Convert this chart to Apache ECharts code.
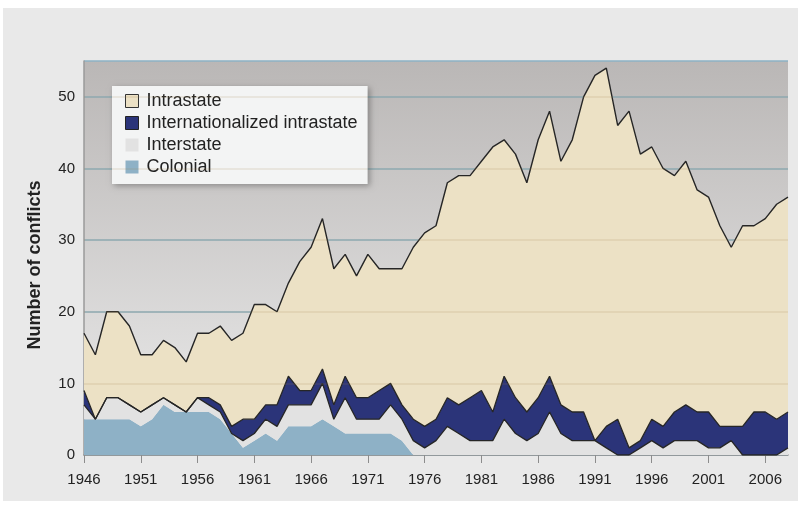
<!DOCTYPE html>
<html>
<head>
<meta charset="utf-8">
<script src="https://cdn.jsdelivr.net/npm/echarts@6/dist/echarts.min.js"></script>
<style>
html,body{margin:0;padding:0;background:#ffffff;}
#chart{width:811px;height:506px;}
</style>
</head>
<body>
<div id="chart"></div>
<script>
const years = [];
for (let y = 1946; y <= 2008; y++) years.push(String(y));

const colonial = [5,5,5,5,5,4,5,7,6,6,6,6,5,3,1,2,3,2,4,4,4,5,4,3,3,3,3,3,2,0,
  0,0,0,0,0,0,0,0,0,0,0,0,0,0,0,0,0,0,0,0,0,0,0,0,0,0,0,0,0,0,0,0,0];
const interstate = [2,0,3,3,2,2,2,1,1,0,2,1,1,0,1,1,2,2,3,3,3,5,1,5,2,2,2,4,3,2,
  1,2,4,3,2,2,2,5,3,2,3,6,3,2,2,2,1,0,0,1,2,1,2,2,2,1,1,2,0,0,0,0,1];
const internationalized = [2,0,0,0,0,0,0,0,0,0,0,1,1,1,3,2,2,3,4,2,2,2,2,3,3,3,4,3,2,3,
  3,3,4,4,6,7,4,6,5,4,5,5,4,4,4,0,3,5,1,1,3,3,4,5,4,5,3,2,4,6,6,5,5];
const intrastate = [8,9,12,12,11,8,7,8,8,7,9,9,11,12,12,16,14,13,13,18,20,21,19,17,17,20,17,16,19,24,
  27,27,30,32,31,32,37,33,34,32,36,37,34,38,44,51,50,41,47,40,38,36,33,34,31,30,28,25,28,26,27,30,30];
const yTicks = [0,10,20,30,40,50];

const FONT = '"Liberation Sans", Arial, Helvetica, sans-serif';
const LINE = '#262626';
const C_INTRA = '#ece1c5';
const C_INTL = '#2b3479';
const C_INTER = '#e2e2e2';
const C_COL = '#8eb1c6';

const chart = echarts.init(document.getElementById('chart'), null, {renderer:'canvas'});
chart.setOption({
  animation: false,
  backgroundColor: '#ffffff',
  graphic: [{
    type: 'rect', z: -10, silent: true,
    shape: {x: 3, y: 8, width: 795, height: 493},
    style: {fill: '#e9e9e9'}
  }],
  grid: {
    left: 84, right: 23, top: 61, bottom: 51,
    show: true, borderWidth: 0,
    backgroundColor: {
      type: 'linear', x: 0, y: 0, x2: 0, y2: 1,
      colorStops: [{offset: 0, color: '#bab7b6'}, {offset: 1, color: '#ececec'}]
    }
  },
  legend: {
    left: 112, top: 86, orient: 'vertical',
    icon: 'rect', itemWidth: 13, itemHeight: 13, itemGap: 4,
    backgroundColor: '#f3f4f4',
    padding: [6, 10, 8, 13],
    shadowBlur: 6, shadowColor: 'rgba(0,0,0,0.3)', shadowOffsetX: 2, shadowOffsetY: 2,
    textStyle: {fontFamily: FONT, fontSize: 18, color: '#222', lineHeight: 18, padding: [0,0,0,3]},
    data: [
      {name: 'Intrastate', itemStyle: {color: C_INTRA, borderColor: '#333', borderWidth: 1}},
      {name: 'Internationalized intrastate', itemStyle: {color: C_INTL, borderColor: '#222', borderWidth: 1}},
      {name: 'Interstate', itemStyle: {color: C_INTER, borderWidth: 0}},
      {name: 'Colonial', itemStyle: {color: C_COL, borderWidth: 0}}
    ]
  },
  xAxis: {
    type: 'category', data: years, boundaryGap: false,
    axisLine: {lineStyle: {color: '#8c8c8c', width: 1.5}},
    axisTick: {show: true, interval: 4, length: 8, lineStyle: {color: '#8c8c8c', width: 1}},
    axisLabel: {interval: 4, margin: 17, fontFamily: FONT, fontSize: 15, color: '#222'},
    splitLine: {show: false}
  },
  yAxis: {
    type: 'value', min: 0, max: 55, interval: 10,
    name: 'Number of conflicts', nameLocation: 'middle', nameRotate: 90, nameGap: 40,
    nameTextStyle: {fontFamily: FONT, fontSize: 18, fontWeight: 'bold', color: '#222', padding: [0, 14, 0, 0]},
    axisLine: {show: true, lineStyle: {color: '#9a9a9a', width: 1.5}},
    axisTick: {show: false},
    axisLabel: {margin: 9, fontFamily: FONT, fontSize: 15, color: '#222',
      formatter: v => yTicks.indexOf(v) >= 0 ? String(v) : ''},
    splitLine: {show: true, lineStyle: {color: '#8db2c4', width: 1.5}}
  },
  series: [
    {
      name: 'Colonial', type: 'line', stack: 'all', data: colonial,
      symbol: 'none', itemStyle: {color: C_COL},
      lineStyle: {width: 0, color: C_COL}, areaStyle: {color: C_COL, opacity: 1}
    },
    {
      name: 'Interstate', type: 'line', stack: 'all', data: interstate,
      symbol: 'none', itemStyle: {color: C_INTER},
      lineStyle: {width: 1.3, color: LINE}, areaStyle: {color: C_INTER, opacity: 1}
    },
    {
      name: 'Internationalized intrastate', type: 'line', stack: 'all', data: internationalized,
      symbol: 'none', itemStyle: {color: C_INTL},
      lineStyle: {width: 1.3, color: LINE}, areaStyle: {color: C_INTL, opacity: 1}
    },
    {
      name: 'Intrastate', type: 'line', stack: 'all', data: intrastate,
      symbol: 'none', itemStyle: {color: C_INTRA},
      lineStyle: {width: 1.4, color: LINE}, areaStyle: {color: C_INTRA, opacity: 1},
      markLine: {
        silent: true, symbol: ['none','none'], label: {show: false},
        lineStyle: {type: 'solid', width: 2, color: 'rgba(160,130,80,0.13)'},
        data: [{yAxis: 10}, {yAxis: 20}, {yAxis: 30}, {yAxis: 40}, {yAxis: 50}]
      }
    }
  ]
});
</script>
</body>
</html>
